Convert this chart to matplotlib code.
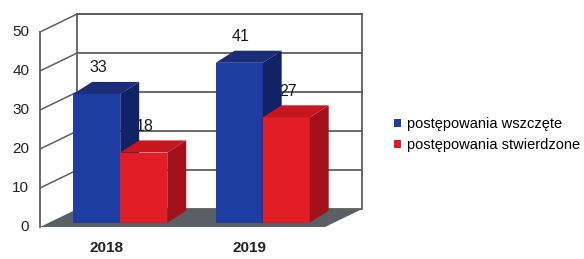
import matplotlib
matplotlib.use("Agg")
import matplotlib.pyplot as plt
import matplotlib.patches as patches

# --- DATA ---
categories = ["2018", "2019"]
wszczete = [33, 41]
stwierdzone = [18, 27]
series_names = ["postępowania wszczęte", "postępowania stwierdzone"]
y_ticks = [0, 10, 20, 30, 40, 50]

# --- STYLE ---
plt.rcParams['font.family'] = ['Liberation Sans', 'DejaVu Sans']

BLUE = {"front": "#1e3da3", "top": "#1b2c78", "side": "#122266"}
RED = {"front": "#e11d25", "top": "#c8161e", "side": "#a3121a"}
WALL = "#5e5e5e"
FLOOR = "#5a5f66"

BAR_W = 0.33
WALL_DX, WALL_DY = 0.26, 4.6      # depth of the box (data units)
BAR_DX, BAR_DY = 0.133, 3.1       # depth of each bar
OX, OY = 0.063, 1.1               # bars sit a bit back from the front edge


def draw_bar3d(ax, x, value, colors, z):
    """Front face through ax.bar, top and side faces as polygons."""
    ax.bar(x + OX, value, BAR_W, bottom=OY, align='edge', color=colors["front"],
           edgecolor='none', zorder=z)
    x0, x1 = x + OX, x + OX + BAR_W
    y0, y1 = OY, OY + value
    top = [(x0, y1), (x1, y1), (x1 + BAR_DX, y1 + BAR_DY), (x0 + BAR_DX, y1 + BAR_DY)]
    side = [(x1, y0), (x1 + BAR_DX, y0 + BAR_DY), (x1 + BAR_DX, y1 + BAR_DY), (x1, y1)]
    ax.add_patch(patches.Polygon(top, closed=True, facecolor=colors["top"], edgecolor='none', zorder=z))
    ax.add_patch(patches.Polygon(side, closed=True, facecolor=colors["side"], edgecolor='none', zorder=z))


fig = plt.figure(figsize=(5.84, 2.59), dpi=100)
ax = fig.add_axes([0, 0, 1, 1])
ax.set_xlim(-0.7807, 3.3175)
ax.set_ylim(-8.2, 58.2)
ax.axis('off')

n = len(categories)
left, right = -0.5, n - 0.5
top_v = y_ticks[-1]

# back wall + side wall
ax.add_patch(patches.Rectangle((left + WALL_DX, WALL_DY), right - left, top_v,
                               facecolor='white', edgecolor=WALL, lw=1.3, zorder=1))
for v in y_ticks[1:]:
    ax.plot([left + WALL_DX, right + WALL_DX], [v + WALL_DY, v + WALL_DY], color=WALL, lw=1.3, zorder=1)
    ax.plot([left, left + WALL_DX], [v, v + WALL_DY], color=WALL, lw=1.1, zorder=1)
ax.plot([left, left], [0, top_v], color=WALL, lw=1.3, zorder=1)

# floor
floor = [(left, 0), (right, 0), (right + WALL_DX, WALL_DY), (left + WALL_DX, WALL_DY)]
ax.add_patch(patches.Polygon(floor, closed=True, facecolor=FLOOR, edgecolor='none', zorder=2))

# tick labels
for v in y_ticks:
    ax.text(left - 0.075, v, str(v), ha='right', va='center', fontsize=11,
            color='#222222', zorder=5)

# bars + value labels
for i in range(n):
    for j, (vals, col) in enumerate([(wszczete, BLUE), (stwierdzone, RED)]):
        x = i - BAR_W + j * BAR_W
        draw_bar3d(ax, x, vals[i], col, z=4 + j)
        ax.text(x + OX + BAR_W / 2 + 0.01, vals[i] + OY + BAR_DY + 3.6, str(vals[i]),
                ha='center', va='center', fontsize=11.5, color='#1a1a1a', zorder=3)
    ax.text(i - 0.03, -5.4, categories[i], ha='center', va='center', fontsize=11,
            fontweight='bold', color='#222222', zorder=5)

# legend
handles = [patches.Patch(facecolor=BLUE["front"]), patches.Patch(facecolor=RED["front"])]
fig.legend(handles, series_names, loc='center left', bbox_to_anchor=(0.665, 0.48),
           frameon=False, fontsize=10.5, handlelength=0.5, handleheight=0.5,
           handletextpad=0.35, labelspacing=0.45, borderaxespad=0)

fig.savefig("out.png", dpi=100)
